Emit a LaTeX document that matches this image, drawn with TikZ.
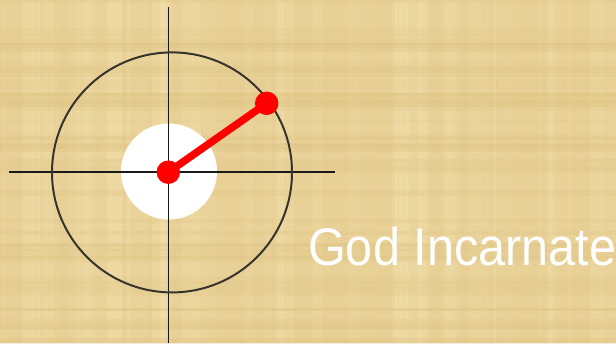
\documentclass[tikz,border=0pt]{standalone}
\usepackage{fontspec}
\newfontfamily\labelfont{Liberation Sans}
\definecolor{papyrus}{RGB}{232,208,150}
\definecolor{papyruslight}{RGB}{242,224,172}
\definecolor{papyrusdark}{RGB}{222,194,128}
\definecolor{ringcol}{RGB}{55,52,45}
\definecolor{dotred}{RGB}{255,0,0}
\tikzset{
  crossline/.style={draw=black!90, line width=1.1pt},
  ring/.style={draw=ringcol, line width=2pt},
  spoke/.style={draw=dotred, line width=7.5pt},
  reddot/.style={circle, fill=dotred, inner sep=0pt, minimum size=23.5pt},
  hub/.style={circle, fill=white, inner sep=0pt, minimum size=96pt},
  caption/.style={text=white, font=\labelfont\fontsize{53}{53}\selectfont, inner sep=0pt, anchor=base west, xscale=0.917}
}
\begin{document}
\begin{tikzpicture}[x=1pt,y=-1pt]
\useasboundingbox (0,0) rectangle (616,343);
% background
\fill[papyrus] (0,0) rectangle (616,343);
\pgfmathsetseed{7}
\foreach \i in {1,...,60}{
  \pgfmathsetmacro{\xx}{rnd*616}
  \pgfmathsetmacro{\ww}{2+rnd*14}
  \pgfmathsetmacro{\op}{0.15+rnd*0.25}
  \fill[papyruslight, opacity=\op] (\xx,0) rectangle (\xx+\ww,343);
}
\foreach \i in {1,...,40}{
  \pgfmathsetmacro{\yy}{rnd*343}
  \pgfmathsetmacro{\hh}{2+rnd*10}
  \pgfmathsetmacro{\op}{0.1+rnd*0.2}
  \fill[papyrusdark, opacity=\op] (0,\yy) rectangle (616,\yy+\hh);
}
% hub disk
\node[hub] (hub) at (169,171.5) {};
% crosshair
\coordinate (vtop) at (168.3,7);
\coordinate (vbot) at (168.3,343);
\coordinate (hleft) at (9,172);
\coordinate (hright) at (335,172);
\draw[crossline] (vtop) -- (vbot);
\draw[crossline] (hleft) -- (hright);
% ring
\node[ring, circle, inner sep=0pt, minimum size=240pt] (ringc) at (172,172.4) {};
% spoke and dots
\node[reddot] (d0) at (168.3,172.2) {};
\node[reddot] (d1) at (266.7,103.3) {};
\draw[spoke] (d0.center) -- (d1.center);
% caption
\node[caption] (cap) at (308,265) {God Incarnate};
\end{tikzpicture}
\end{document}
